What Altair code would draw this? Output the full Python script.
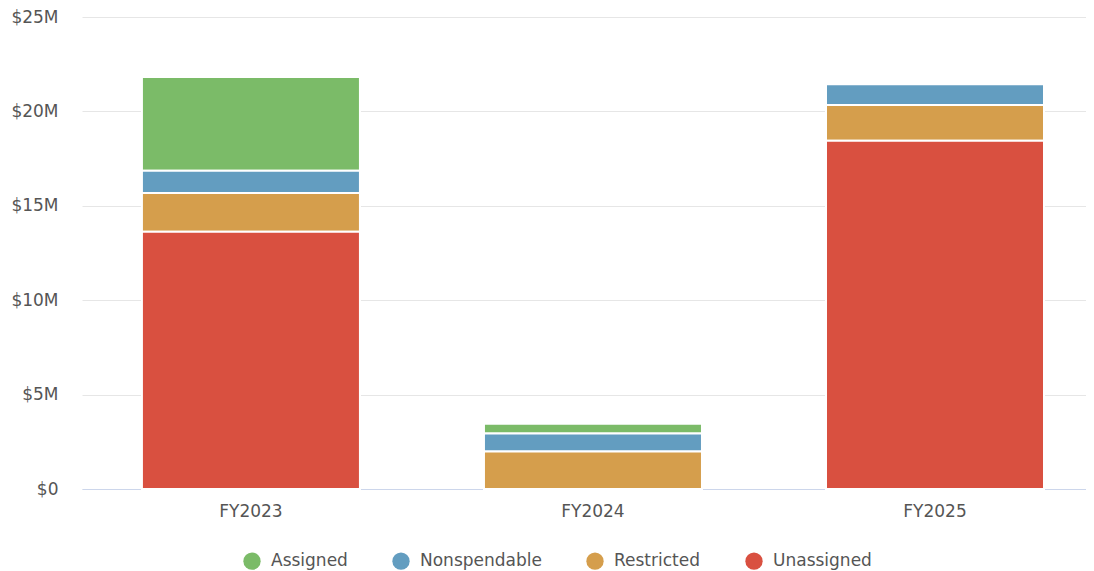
import altair as alt
import pandas as pd

years = ["FY2023", "FY2024", "FY2025"]
categories = ["Assigned", "Nonspendable", "Restricted", "Unassigned"]
colors = ["#7BBB68", "#639DC0", "#D59E4C", "#D95040"]
stack_rank = [3, 2, 1, 0]  # Unassigned at the bottom
values = {
    "Assigned": [4.96, 0.51, 0.0],
    "Nonspendable": [1.18, 0.95, 1.10],
    "Restricted": [2.05, 1.99, 1.89],
    "Unassigned": [13.63, 0.0, 18.45],
}

rows = []
for c, r in zip(categories, stack_rank):
    for y, v in zip(years, values[c]):
        rows.append({"year": y, "category": c, "value": v, "rank": r})
df = pd.DataFrame(rows)

FONT = "DejaVu Sans"

chart = (
    alt.Chart(df)
    .mark_bar(stroke="white", strokeWidth=2)
    .encode(
        x=alt.X(
            "year:N",
            title=None,
            sort=years,
            scale=alt.Scale(paddingInner=0.3626, paddingOuter=0.149, align=0.588),
            axis=alt.Axis(
                labelAngle=0,
                labelFontSize=17,
                labelColor="#555555",
                labelFont=FONT,
                labelPadding=14,
                domainColor="#CCD6EB",
                domainWidth=1,
                ticks=False,
                grid=False,
            ),
        ),
        y=alt.Y(
            "value:Q",
            title=None,
            stack="zero",
            scale=alt.Scale(domain=[0, 25], nice=False),
            axis=alt.Axis(
                values=[0, 5, 10, 15, 20, 25],
                labelExpr="datum.value == 0 ? '$0' : '$' + datum.value + 'M'",
                labelFontSize=17,
                labelColor="#555555",
                labelFont=FONT,
                labelPadding=24,
                ticks=False,
                domain=False,
                gridColor="#E6E6E6",
                gridWidth=1,
            ),
        ),
        color=alt.Color(
            "category:N",
            scale=alt.Scale(domain=categories, range=colors),
            legend=alt.Legend(
                title=None,
                orient="none",
                legendX=161,
                legendY=535,
                direction="horizontal",
                symbolType="circle",
                symbolSize=300,
                symbolStrokeWidth=0,
                labelFontSize=17,
                labelColor="#555555",
                labelFont=FONT,
                labelOffset=10,
                columnPadding=44,
            ),
        ),
        order=alt.Order("rank:Q", sort="ascending"),
    )
    .properties(width=1004, height=472, padding={"left": 2, "top": 0, "right": 0, "bottom": 0})
    .configure_view(stroke=None)
)

chart.save("out.html", embed_options={"renderer": "svg", "actions": False})
